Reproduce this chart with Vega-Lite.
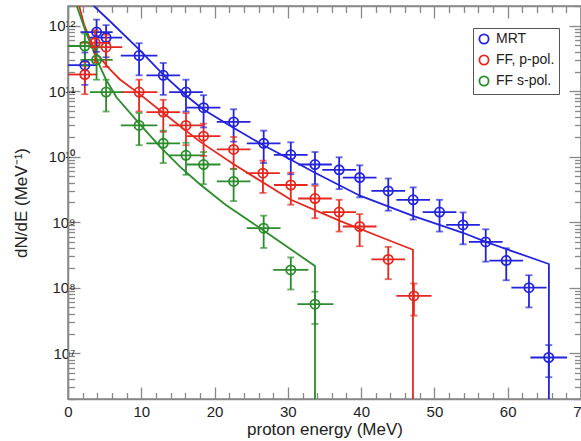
{
  "$schema": "https://vega.github.io/schema/vega-lite/v6.json",
  "width": 513,
  "height": 393,
  "autosize": {"type": "none"},
  "padding": {"left": 68, "top": 6, "right": 0, "bottom": 42},
  "background": "white",
  "config": {
    "font": "Liberation Sans",
    "view": {"stroke": "#888", "strokeWidth": 1.5}
  },
  "datasets": {
    "points": [
      {"series": "MRT", "E": 2.3, "dNdE": 2.5e11, "Elo": 0, "Ehi": 3.9, "ylo": 1.25e11, "yhi": 3.9e11},
      {"series": "MRT", "E": 3.9, "dNdE": 8.0e11, "Elo": 1.7, "Ehi": 6.1, "ylo": 4.0e11, "yhi": 1.24e12},
      {"series": "MRT", "E": 5.2, "dNdE": 6.6e11, "Elo": 3.0, "Ehi": 7.4, "ylo": 3.3e11, "yhi": 1.02e12},
      {"series": "MRT", "E": 9.7, "dNdE": 3.5e11, "Elo": 7.2, "Ehi": 12.2, "ylo": 1.75e11, "yhi": 5.4e11},
      {"series": "MRT", "E": 13.0, "dNdE": 1.75e11, "Elo": 10.7, "Ehi": 15.3, "ylo": 8.8e10, "yhi": 2.7e11},
      {"series": "MRT", "E": 16.1, "dNdE": 9.7e10, "Elo": 13.8, "Ehi": 18.4, "ylo": 4.9e10, "yhi": 1.5e11},
      {"series": "MRT", "E": 18.5, "dNdE": 5.6e10, "Elo": 16.2, "Ehi": 20.8, "ylo": 2.8e10, "yhi": 8.7e10},
      {"series": "MRT", "E": 22.6, "dNdE": 3.4e10, "Elo": 20.3, "Ehi": 24.9, "ylo": 1.7e10, "yhi": 5.3e10},
      {"series": "MRT", "E": 26.7, "dNdE": 1.6e10, "Elo": 24.4, "Ehi": 29.0, "ylo": 8.0e9, "yhi": 2.5e10},
      {"series": "MRT", "E": 30.4, "dNdE": 1.07e10, "Elo": 28.1, "Ehi": 32.7, "ylo": 5.4e9, "yhi": 1.66e10},
      {"series": "MRT", "E": 33.7, "dNdE": 7.6e9, "Elo": 31.4, "Ehi": 36.0, "ylo": 3.8e9, "yhi": 1.18e10},
      {"series": "MRT", "E": 37.0, "dNdE": 6.3e9, "Elo": 34.7, "Ehi": 39.3, "ylo": 3.2e9, "yhi": 9.8e9},
      {"series": "MRT", "E": 39.8, "dNdE": 4.8e9, "Elo": 37.5, "Ehi": 42.1, "ylo": 2.4e9, "yhi": 7.4e9},
      {"series": "MRT", "E": 43.7, "dNdE": 3.0e9, "Elo": 41.4, "Ehi": 46.0, "ylo": 1.5e9, "yhi": 4.65e9},
      {"series": "MRT", "E": 47.1, "dNdE": 2.2e9, "Elo": 44.8, "Ehi": 49.4, "ylo": 1.1e9, "yhi": 3.4e9},
      {"series": "MRT", "E": 50.7, "dNdE": 1.43e9, "Elo": 48.4, "Ehi": 53.0, "ylo": 7.2e8, "yhi": 2.2e9},
      {"series": "MRT", "E": 53.9, "dNdE": 9.1e8, "Elo": 51.6, "Ehi": 56.2, "ylo": 4.6e8, "yhi": 1.41e9},
      {"series": "MRT", "E": 57.0, "dNdE": 5.0e8, "Elo": 54.7, "Ehi": 59.3, "ylo": 2.5e8, "yhi": 7.8e8},
      {"series": "MRT", "E": 59.8, "dNdE": 2.6e8, "Elo": 57.5, "Ehi": 62.1, "ylo": 1.3e8, "yhi": 4.0e8},
      {"series": "MRT", "E": 62.9, "dNdE": 1.0e8, "Elo": 60.5, "Ehi": 65.3, "ylo": 5.0e7, "yhi": 1.55e8},
      {"series": "MRT", "E": 65.6, "dNdE": 8.6e6, "Elo": 63.1, "Ehi": 68.1, "ylo": 4.3e6, "yhi": 1.33e7},
      {"series": "FF, p-pol.", "E": 2.3, "dNdE": 1.8e11, "Elo": 0, "Ehi": 4.0, "ylo": 9.0e10, "yhi": 2.8e11},
      {"series": "FF, p-pol.", "E": 3.7, "dNdE": 5.5e11, "Elo": 1.6, "Ehi": 5.8, "ylo": 2.75e11, "yhi": 8.5e11},
      {"series": "FF, p-pol.", "E": 5.2, "dNdE": 4.7e11, "Elo": 3.0, "Ehi": 7.4, "ylo": 2.35e11, "yhi": 7.3e11},
      {"series": "FF, p-pol.", "E": 9.7, "dNdE": 9.7e10, "Elo": 7.2, "Ehi": 12.2, "ylo": 4.9e10, "yhi": 1.5e11},
      {"series": "FF, p-pol.", "E": 13.0, "dNdE": 4.8e10, "Elo": 10.7, "Ehi": 15.3, "ylo": 2.4e10, "yhi": 7.4e10},
      {"series": "FF, p-pol.", "E": 16.1, "dNdE": 3.0e10, "Elo": 13.8, "Ehi": 18.4, "ylo": 1.5e10, "yhi": 4.65e10},
      {"series": "FF, p-pol.", "E": 18.5, "dNdE": 2.06e10, "Elo": 16.2, "Ehi": 20.8, "ylo": 1.03e10, "yhi": 3.2e10},
      {"series": "FF, p-pol.", "E": 22.6, "dNdE": 1.29e10, "Elo": 20.3, "Ehi": 24.9, "ylo": 6.5e9, "yhi": 2.0e10},
      {"series": "FF, p-pol.", "E": 26.6, "dNdE": 5.6e9, "Elo": 24.3, "Ehi": 28.9, "ylo": 2.8e9, "yhi": 8.7e9},
      {"series": "FF, p-pol.", "E": 30.4, "dNdE": 3.7e9, "Elo": 28.1, "Ehi": 32.7, "ylo": 1.85e9, "yhi": 5.7e9},
      {"series": "FF, p-pol.", "E": 33.7, "dNdE": 2.3e9, "Elo": 31.4, "Ehi": 36.0, "ylo": 1.15e9, "yhi": 3.6e9},
      {"series": "FF, p-pol.", "E": 37.0, "dNdE": 1.43e9, "Elo": 34.7, "Ehi": 39.3, "ylo": 7.2e8, "yhi": 2.2e9},
      {"series": "FF, p-pol.", "E": 39.8, "dNdE": 8.6e8, "Elo": 37.5, "Ehi": 42.1, "ylo": 4.3e8, "yhi": 1.33e9},
      {"series": "FF, p-pol.", "E": 43.7, "dNdE": 2.7e8, "Elo": 41.4, "Ehi": 46.0, "ylo": 1.35e8, "yhi": 4.2e8},
      {"series": "FF, p-pol.", "E": 47.2, "dNdE": 7.5e7, "Elo": 44.8, "Ehi": 49.6, "ylo": 3.75e7, "yhi": 1.16e8},
      {"series": "FF s-pol.", "E": 2.3, "dNdE": 4.9e11, "Elo": 0, "Ehi": 4.4, "ylo": 2.45e11, "yhi": 7.6e11},
      {"series": "FF s-pol.", "E": 3.9, "dNdE": 3.0e11, "Elo": 1.7, "Ehi": 6.1, "ylo": 1.5e11, "yhi": 4.65e11},
      {"series": "FF s-pol.", "E": 5.2, "dNdE": 9.7e10, "Elo": 3.0, "Ehi": 7.5, "ylo": 4.9e10, "yhi": 1.5e11},
      {"series": "FF s-pol.", "E": 9.7, "dNdE": 3.0e10, "Elo": 7.2, "Ehi": 12.2, "ylo": 1.5e10, "yhi": 4.65e10},
      {"series": "FF s-pol.", "E": 13.0, "dNdE": 1.6e10, "Elo": 10.7, "Ehi": 15.3, "ylo": 8.0e9, "yhi": 2.5e10},
      {"series": "FF s-pol.", "E": 16.1, "dNdE": 1.05e10, "Elo": 13.8, "Ehi": 18.4, "ylo": 5.3e9, "yhi": 1.63e10},
      {"series": "FF s-pol.", "E": 18.5, "dNdE": 7.6e9, "Elo": 16.2, "Ehi": 20.8, "ylo": 3.8e9, "yhi": 1.18e10},
      {"series": "FF s-pol.", "E": 22.6, "dNdE": 4.2e9, "Elo": 20.3, "Ehi": 24.9, "ylo": 2.1e9, "yhi": 6.5e9},
      {"series": "FF s-pol.", "E": 26.7, "dNdE": 8.1e8, "Elo": 24.4, "Ehi": 29.0, "ylo": 4.05e8, "yhi": 1.26e9},
      {"series": "FF s-pol.", "E": 30.4, "dNdE": 1.87e8, "Elo": 28.0, "Ehi": 32.8, "ylo": 9.4e7, "yhi": 2.9e8},
      {"series": "FF s-pol.", "E": 33.7, "dNdE": 5.6e7, "Elo": 31.3, "Ehi": 36.2, "ylo": 2.8e7, "yhi": 8.7e7}
    ],
    "fits": [
      {"series": "MRT", "i": 0, "E": 3.41, "dNdE": 2.06e12},
      {"series": "MRT", "i": 1, "E": 5.73, "dNdE": 1.17e12},
      {"series": "MRT", "i": 2, "E": 9.69, "dNdE": 4.37e11},
      {"series": "MRT", "i": 3, "E": 12.96, "dNdE": 1.81e11},
      {"series": "MRT", "i": 4, "E": 16.1, "dNdE": 8.6e10},
      {"series": "MRT", "i": 5, "E": 18.42, "dNdE": 5.3e10},
      {"series": "MRT", "i": 6, "E": 22.51, "dNdE": 2.79e10},
      {"series": "MRT", "i": 7, "E": 26.74, "dNdE": 1.48e10},
      {"series": "MRT", "i": 8, "E": 30.42, "dNdE": 9.0e9},
      {"series": "MRT", "i": 9, "E": 33.7, "dNdE": 5.7e9},
      {"series": "MRT", "i": 10, "E": 39.84, "dNdE": 2.54e9},
      {"series": "MRT", "i": 11, "E": 47.07, "dNdE": 1.25e9},
      {"series": "MRT", "i": 12, "E": 53.89, "dNdE": 6.9e8},
      {"series": "MRT", "i": 13, "E": 57.03, "dNdE": 5.0e8},
      {"series": "MRT", "i": 14, "E": 65.62, "dNdE": 2.3e8},
      {"series": "MRT", "i": 15, "E": 65.62, "dNdE": 1e6},
      {"series": "FF, p-pol.", "i": 0, "E": 1.5, "dNdE": 2.06e12},
      {"series": "FF, p-pol.", "i": 1, "E": 2.18, "dNdE": 1.05e12},
      {"series": "FF, p-pol.", "i": 2, "E": 3.0, "dNdE": 6.2e11},
      {"series": "FF, p-pol.", "i": 3, "E": 3.96, "dNdE": 3.66e11},
      {"series": "FF, p-pol.", "i": 4, "E": 5.73, "dNdE": 2.16e11},
      {"series": "FF, p-pol.", "i": 5, "E": 7.09, "dNdE": 1.51e11},
      {"series": "FF, p-pol.", "i": 6, "E": 9.69, "dNdE": 9.2e10},
      {"series": "FF, p-pol.", "i": 7, "E": 12.96, "dNdE": 4.7e10},
      {"series": "FF, p-pol.", "i": 8, "E": 18.01, "dNdE": 1.7e10},
      {"series": "FF, p-pol.", "i": 9, "E": 22.51, "dNdE": 7.8e9},
      {"series": "FF, p-pol.", "i": 10, "E": 30.42, "dNdE": 2.2e9},
      {"series": "FF, p-pol.", "i": 11, "E": 37.1, "dNdE": 1.05e9},
      {"series": "FF, p-pol.", "i": 12, "E": 42.56, "dNdE": 6.0e8},
      {"series": "FF, p-pol.", "i": 13, "E": 47.07, "dNdE": 3.8e8},
      {"series": "FF, p-pol.", "i": 14, "E": 47.07, "dNdE": 1e6},
      {"series": "FF s-pol.", "i": 0, "E": 1.19, "dNdE": 2.0e12},
      {"series": "FF s-pol.", "i": 1, "E": 2.46, "dNdE": 7.9e11},
      {"series": "FF s-pol.", "i": 2, "E": 3.92, "dNdE": 3.07e11},
      {"series": "FF s-pol.", "i": 3, "E": 5.18, "dNdE": 1.51e11},
      {"series": "FF s-pol.", "i": 4, "E": 6.64, "dNdE": 8.0e10},
      {"series": "FF s-pol.", "i": 5, "E": 9.73, "dNdE": 3.2e10},
      {"series": "FF s-pol.", "i": 6, "E": 12.55, "dNdE": 1.43e10},
      {"series": "FF s-pol.", "i": 7, "E": 15.3, "dNdE": 7.0e9},
      {"series": "FF s-pol.", "i": 8, "E": 18.0, "dNdE": 3.8e9},
      {"series": "FF s-pol.", "i": 9, "E": 21.5, "dNdE": 1.85e9},
      {"series": "FF s-pol.", "i": 10, "E": 26.74, "dNdE": 7.4e8},
      {"series": "FF s-pol.", "i": 11, "E": 33.7, "dNdE": 2.15e8},
      {"series": "FF s-pol.", "i": 12, "E": 33.7, "dNdE": 1e6}
    ]
  },
  "layer": [
    {
      "data": {"name": "fits"},
      "mark": {"type": "line", "strokeWidth": 1.8, "clip": true},
      "encoding": {
        "x": {
          "field": "E", "type": "quantitative",
          "scale": {"domain": [0, 70], "nice": false, "zero": false},
          "axis": {
            "orient": "bottom",
            "values": [0,2,4,6,8,10,12,14,16,18,20,22,24,26,28,30,32,34,36,38,40,42,44,46,48,50,52,54,56,58,60,62,64,66,68,70],
            "labelExpr": "datum.value % 10 == 0 ? datum.label : ''",
            "format": "d",
            "tickSize": {"condition": {"test": "datum.value % 10 == 0", "value": -12}, "value": -6.5},
            "tickWidth": 1.3, "tickColor": "#888",
            "domainColor": "#888", "domainWidth": 1.5,
            "grid": false,
            "labelFontSize": 15, "labelColor": "#222", "labelPadding": 17,
            "labelFlush": false, "labelOverlap": false,
            "title": "proton energy (MeV)", "titleFontSize": 17, "titleFontWeight": "normal",
            "titleColor": "#222", "titlePadding": -3
          }
        },
        "y": {
          "field": "dNdE", "type": "quantitative",
          "scale": {"type": "log", "domain": [2e6, 2e12], "nice": false},
          "axis": {
            "orient": "left",
            "values": [2e6,3e6,4e6,5e6,6e6,7e6,8e6,9e6,1e7,2e7,3e7,4e7,5e7,6e7,7e7,8e7,9e7,1e8,2e8,3e8,4e8,5e8,6e8,7e8,8e8,9e8,1e9,2e9,3e9,4e9,5e9,6e9,7e9,8e9,9e9,1e10,2e10,3e10,4e10,5e10,6e10,7e10,8e10,9e10,1e11,2e11,3e11,4e11,5e11,6e11,7e11,8e11,9e11,1e12,2e12],
            "labelExpr": "datum.value == 1e7 ? '10⁷' : datum.value == 1e8 ? '10⁸' : datum.value == 1e9 ? '10⁹' : datum.value == 1e10 ? '10¹⁰' : datum.value == 1e11 ? '10¹¹' : datum.value == 1e12 ? '10¹²' : ''",
            "tickSize": {"condition": {"test": "indexof([1e7,1e8,1e9,1e10,1e11,1e12], datum.value) >= 0", "value": -12}, "value": -6.5},
            "tickWidth": 1.3, "tickColor": "#888",
            "domainColor": "#888", "domainWidth": 1.5,
            "grid": false,
            "labelFontSize": 15, "labelColor": "#222", "labelPadding": 5,
            "labelFlush": false, "labelOverlap": false,
            "title": "dN/dE (MeV⁻¹)", "titleFontSize": 17, "titleFontWeight": "normal",
            "titleColor": "#222", "titlePadding": 18
          }
        },
        "stroke": {
          "field": "series", "type": "nominal",
          "scale": {"domain": ["FF s-pol.", "FF, p-pol.", "MRT"], "range": ["#2b8c2b", "#e6271e", "#2323dc"]},
          "legend": null
        },
        "order": {"field": "i", "type": "quantitative"}
      }
    },
    {
      "data": {"name": "points"},
      "mark": {"type": "rule", "strokeWidth": 1.8},
      "encoding": {
        "x": {"field": "Elo", "type": "quantitative", "axis": null},
        "x2": {"field": "Ehi"},
        "y": {"field": "dNdE", "type": "quantitative", "axis": null},
        "stroke": {"field": "series", "type": "nominal", "legend": null}
      }
    },
    {
      "data": {"name": "points"},
      "mark": {"type": "rule", "strokeWidth": 1.8},
      "encoding": {
        "x": {"field": "E", "type": "quantitative", "axis": null},
        "y": {"field": "ylo", "type": "quantitative", "axis": null},
        "y2": {"field": "yhi"},
        "stroke": {"field": "series", "type": "nominal", "legend": null}
      }
    },
    {
      "data": {"name": "points"},
      "mark": {"type": "tick", "orient": "horizontal", "size": 7, "thickness": 1.8},
      "encoding": {
        "x": {"field": "E", "type": "quantitative", "axis": null},
        "y": {"field": "ylo", "type": "quantitative", "axis": null},
        "fill": {
          "field": "series", "type": "nominal",
          "scale": {"domain": ["FF s-pol.", "FF, p-pol.", "MRT"], "range": ["#2b8c2b", "#e6271e", "#2323dc"]},
          "legend": null
        }
      }
    },
    {
      "data": {"name": "points"},
      "mark": {"type": "tick", "orient": "horizontal", "size": 7, "thickness": 1.8},
      "encoding": {
        "x": {"field": "E", "type": "quantitative", "axis": null},
        "y": {"field": "yhi", "type": "quantitative", "axis": null},
        "fill": {"field": "series", "type": "nominal", "legend": null}
      }
    },
    {
      "data": {"name": "points"},
      "mark": {"type": "point", "shape": "circle", "filled": false, "size": 85, "strokeWidth": 1.8, "opacity": 1},
      "encoding": {
        "x": {
          "field": "E", "type": "quantitative",
          "axis": {
            "orient": "top",
            "values": [0,2,4,6,8,10,12,14,16,18,20,22,24,26,28,30,32,34,36,38,40,42,44,46,48,50,52,54,56,58,60,62,64,66,68,70],
            "labels": false, "title": null,
            "tickSize": {"condition": {"test": "datum.value % 10 == 0", "value": -12}, "value": -6.5},
            "tickWidth": 1.3, "tickColor": "#888",
            "domainColor": "#888", "domainWidth": 1.5, "grid": false
          }
        },
        "y": {
          "field": "dNdE", "type": "quantitative",
          "axis": {
            "orient": "right",
            "values": [2e6,3e6,4e6,5e6,6e6,7e6,8e6,9e6,1e7,2e7,3e7,4e7,5e7,6e7,7e7,8e7,9e7,1e8,2e8,3e8,4e8,5e8,6e8,7e8,8e8,9e8,1e9,2e9,3e9,4e9,5e9,6e9,7e9,8e9,9e9,1e10,2e10,3e10,4e10,5e10,6e10,7e10,8e10,9e10,1e11,2e11,3e11,4e11,5e11,6e11,7e11,8e11,9e11,1e12,2e12],
            "labels": false, "title": null,
            "tickSize": {"condition": {"test": "indexof([1e7,1e8,1e9,1e10,1e11,1e12], datum.value) >= 0", "value": -12}, "value": -6.5},
            "tickWidth": 1.3, "tickColor": "#888",
            "domainColor": "#888", "domainWidth": 1.5, "grid": false
          }
        },
        "color": {
          "field": "series", "type": "nominal",
          "scale": {"domain": ["MRT", "FF, p-pol.", "FF s-pol."], "range": ["#2323dc", "#e6271e", "#2b8c2b"]},
          "legend": {
            "orient": "none", "legendX": 405, "legendY": 22,
            "title": null,
            "labelFontSize": 14, "labelColor": "#222",
            "symbolType": "circle", "symbolSize": 85, "symbolStrokeWidth": 1.8,
            "padding": 4, "strokeColor": "#555", "fillColor": "white",
            "rowPadding": 3, "labelOffset": 5
          }
        }
      }
    }
  ],
  "resolve": {"axis": {"x": "independent", "y": "independent"}}
}
